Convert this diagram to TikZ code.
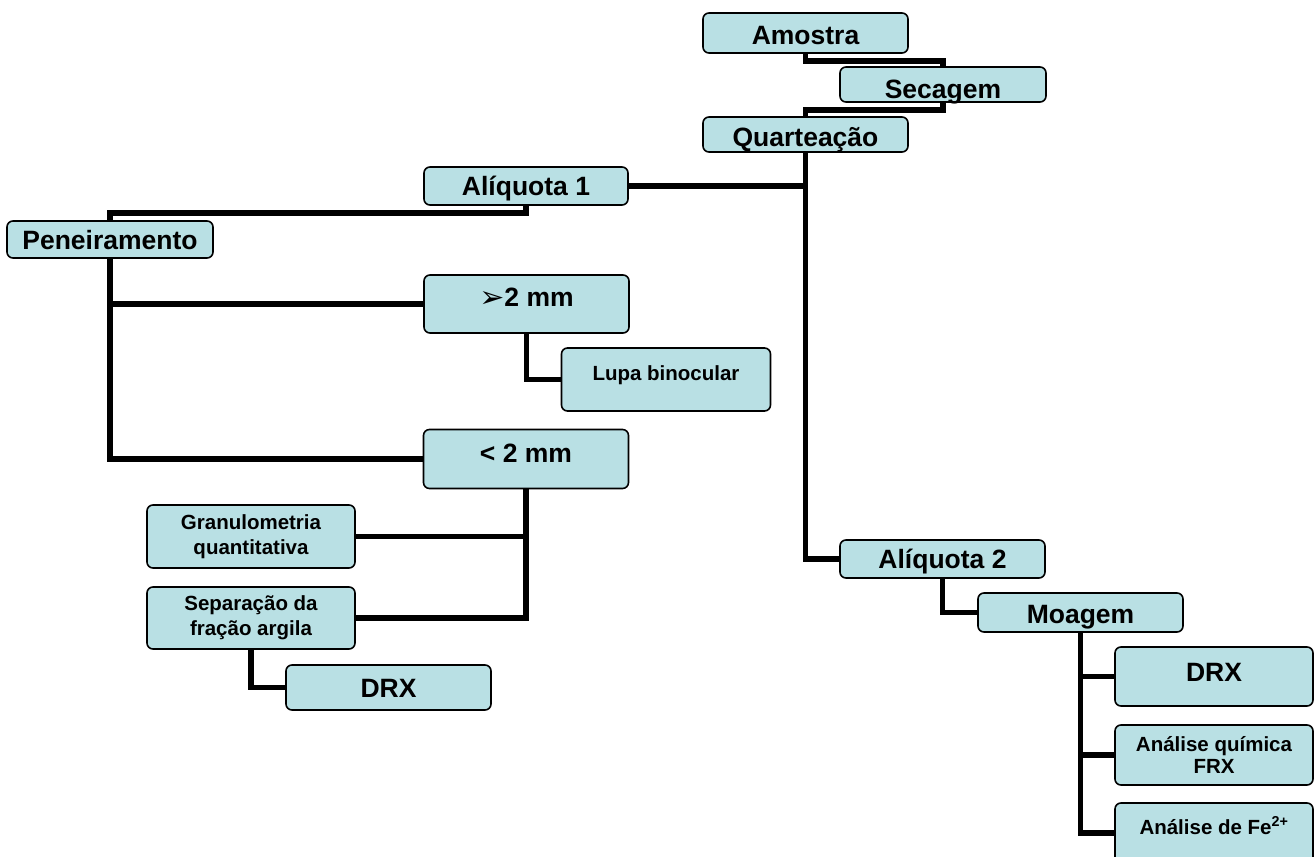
\documentclass[tikz,border=0pt]{standalone}
\usepackage{fontspec}
\setmainfont{Liberation Sans}
\newfontfamily\dejavu{DejaVu Sans}
\usepackage{tikz}
\newcommand\bigtxt{\fontsize{26.5}{30}\selectfont\bfseries}
\newcommand\smalltxt{\fontsize{20.5}{25}\selectfont\bfseries}
\definecolor{boxfill}{HTML}{B9E0E4}

\begin{document}
\begin{tikzpicture}[x=1pt,y=-1pt,
    box/.style={rectangle, rounded corners=6pt, draw=black, line width=1.6pt,
      fill=boxfill, inner sep=0pt},
    big/.style={box, font=\bigtxt, text height=19pt, text depth=0pt},
    small/.style={box, font=\smalltxt, align=center},
    link/.style={line width=5.5pt, line join=miter}]

\path[use as bounding box, fill=white] (0,0) rectangle (1315,857);

% main trunk
\node (amostra) [big, minimum width=205pt, minimum height=40pt, text height=23pt] at (805.5,33) {Amostra};
\node (secagem) [big, minimum width=206pt, minimum height=35pt, text height=27pt] at (943,84.5) {Secagem};
\node (quarteacao) [big, minimum width=205pt, minimum height=35pt, text height=24pt] at (805.5,134.5) {Quartea\c{c}\~ao};
\node (aliquota1) [big, minimum width=204pt, minimum height=38pt] at (526,186) {Al\'{\i}quota 1};
\node (aliquota2) [big, minimum width=205pt, minimum height=38pt] at (942.5,559) {Al\'{\i}quota 2};

% aliquota 1
\node (peneiramento) [big, minimum width=206pt, minimum height=37pt] at (110,239.5) {Peneiramento};
\node (gt2) [big, minimum width=205pt, minimum height=58pt, text depth=14pt] at (526.5,304) {\raisebox{-1pt}{\dejavu\fontsize{30}{30}\selectfont ➢}2 mm};
\node (lupa) [small, align=none, minimum width=209pt, minimum height=63pt, text height=14.7pt, text depth=12pt] at (666,379.5) {Lupa binocular};
\node (lt2) [big, minimum width=205pt, minimum height=59pt, text depth=12pt] at (526,459) {< 2 mm};
\node (granulo) [small, minimum width=208pt, minimum height=63pt] at (251,536.5) {Granulometria\\quantitativa};
\node (separacao) [small, minimum width=208pt, minimum height=62pt] at (251,618) {Separa\c{c}\~ao da\\fra\c{c}\~ao argila};
\node (drx1) [big, minimum width=205pt, minimum height=45pt] at (388.5,687.5) {DRX};

% aliquota 2
\node (moagem) [big, minimum width=205pt, minimum height=39pt, text height=22pt] at (1080.5,612.5) {Moagem};
\node (drx2) [big, minimum width=198pt, minimum height=59pt, text depth=9pt] at (1214,676.5) {DRX};
\node (frx) [small, font=\fontsize{20.5}{21.7}\selectfont\bfseries, minimum width=198pt, minimum height=60pt] at (1214,755) {An\'alise qu\'{\i}mica\\FRX};
\node (fe) [small, align=none, minimum width=198pt, minimum height=60pt, text height=14.7pt, text depth=12pt] at (1214,833) {An\'alise de Fe\textsuperscript{2+}};

\draw [link] (amostra.south) -- ++(0,7) -| (secagem.north);
\draw [link] (secagem.south) -- ++(0,7) -| (quarteacao.north);
\draw [link] (quarteacao.south) |- (aliquota1.east);
\draw [link] (quarteacao.south) |- (aliquota2.west);

\draw [link] (aliquota1.south) -- ++(0,7) -| (peneiramento.north);
\draw [link] (peneiramento.south) |- (gt2.west);
\draw [link] (peneiramento.south) |- (lt2.west);
\draw [link] (gt2.south) |- (lupa.west);
\draw [link] (lt2.south) |- (granulo.east);
\draw [link] (lt2.south) |- (separacao.east);
\draw [link] (separacao.south) |- (drx1.west);

\draw [link] (aliquota2.south) |- (moagem.west);
\draw [link] (moagem.south) |- (drx2.west);
\draw [link] (moagem.south) |- (frx.west);
\draw [link] (moagem.south) |- (fe.west);
\end{tikzpicture}
\end{document}
